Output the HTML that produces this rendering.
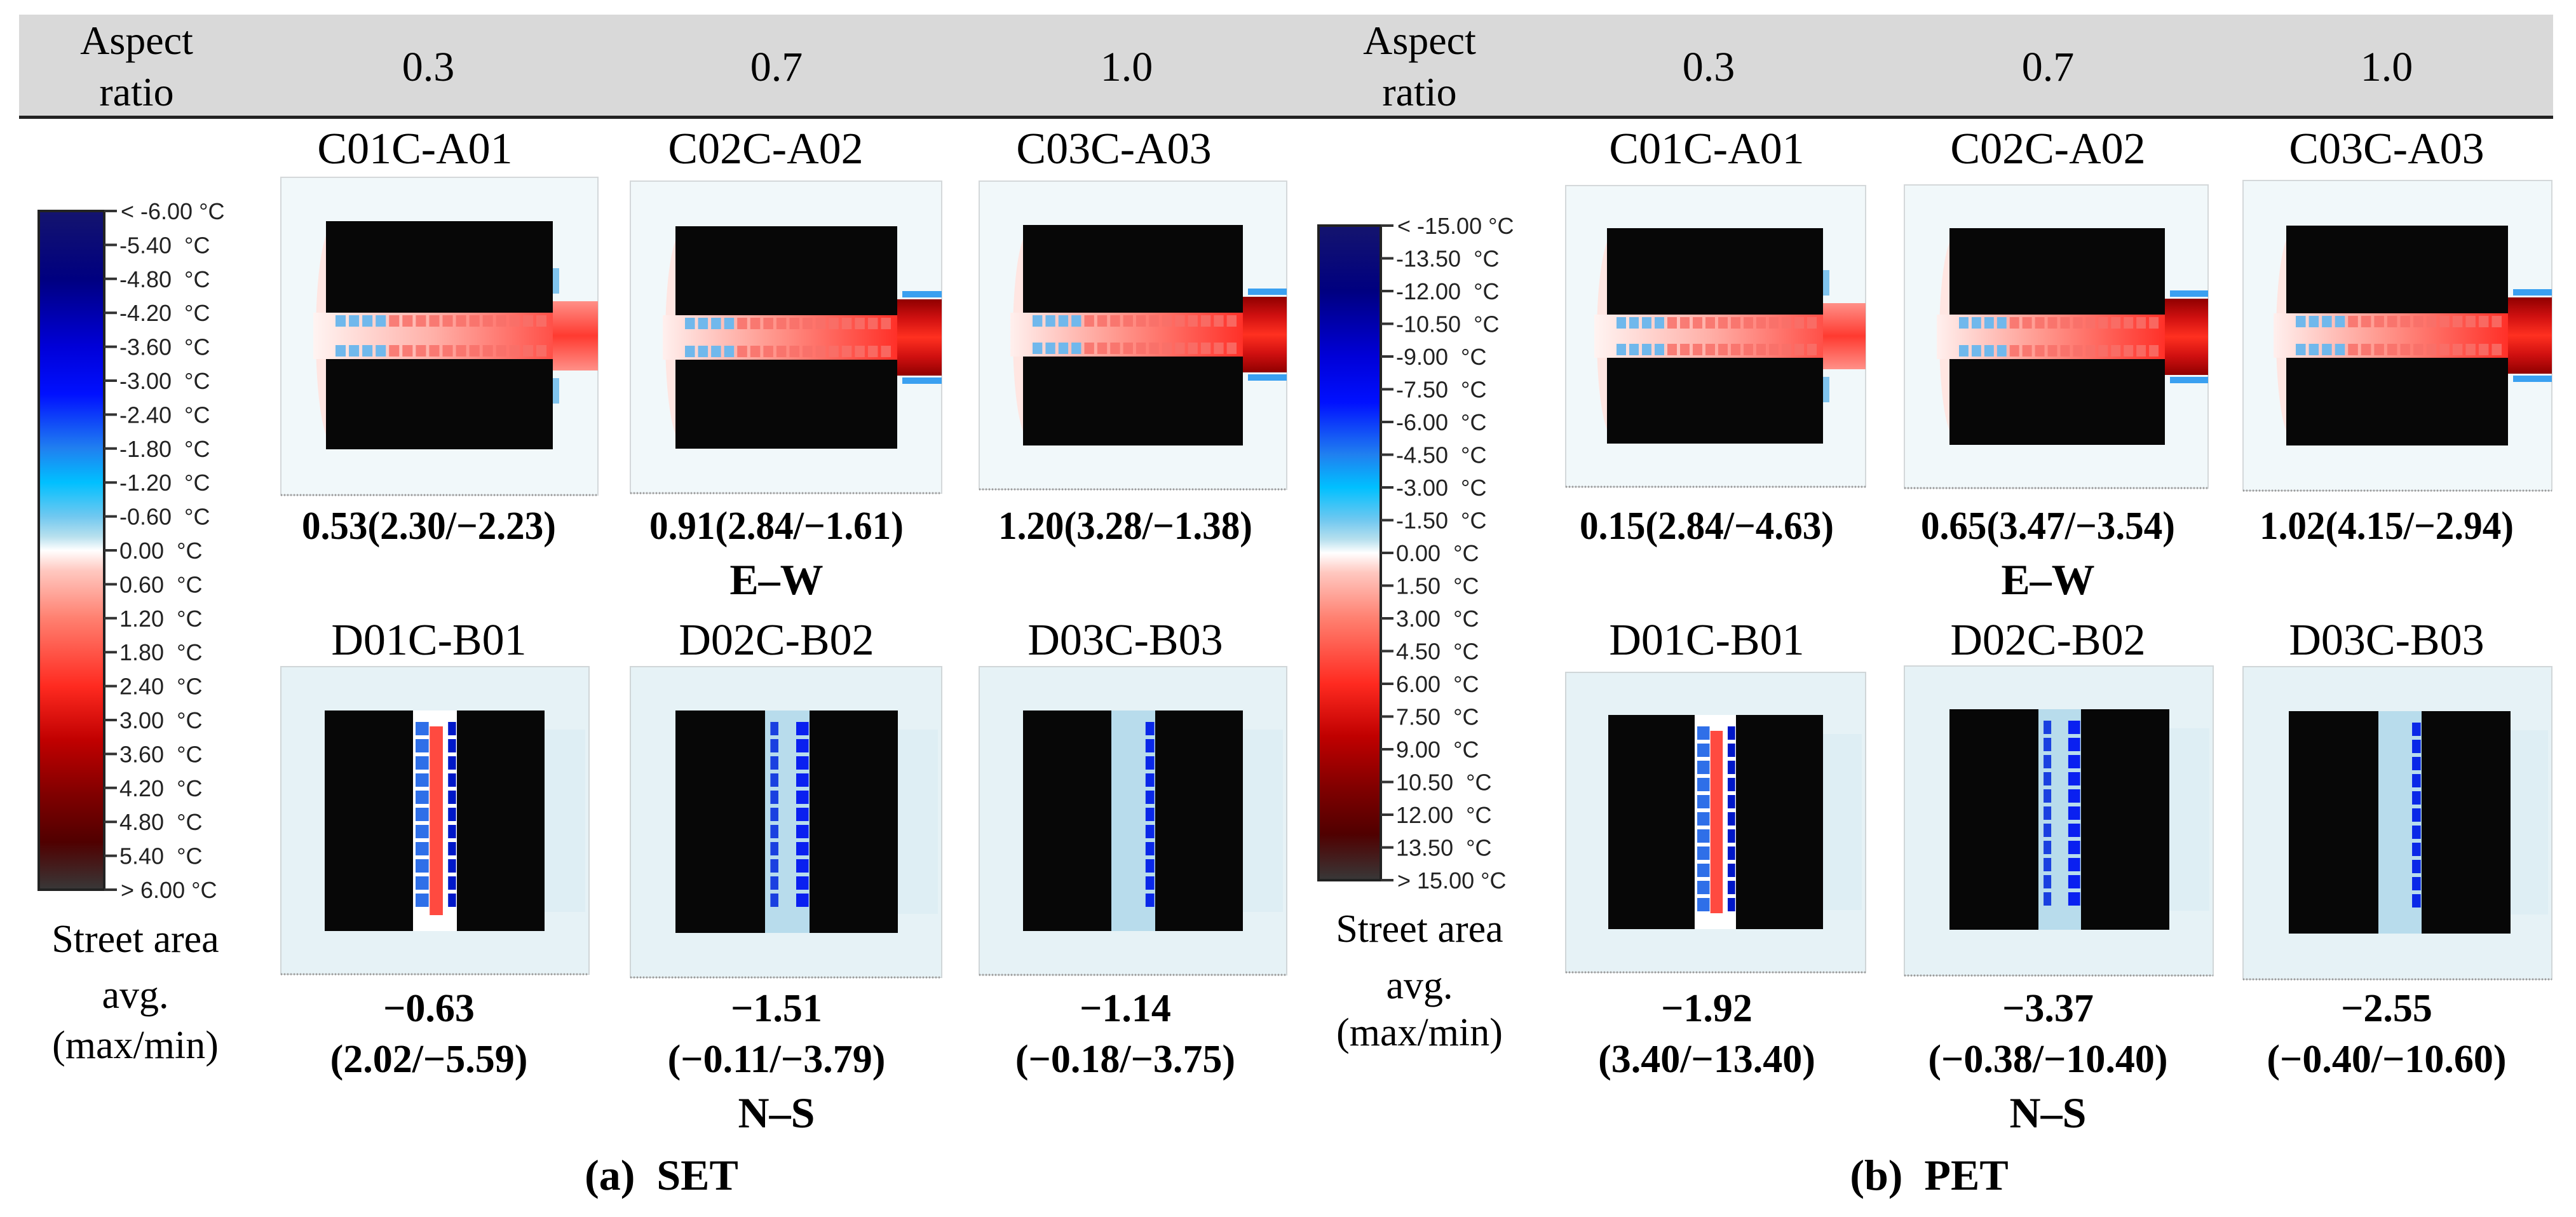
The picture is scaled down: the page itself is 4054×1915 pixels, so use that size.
<!DOCTYPE html>
<html><head><meta charset="utf-8">
<style>
html,body{margin:0;padding:0;background:#fff;}
body{width:4054px;height:1910px;overflow:hidden;}
svg text{white-space:pre;}
.serif{font-family:"Liberation Serif",serif;fill:#000;}
.cb{font-family:"Liberation Sans",sans-serif;font-size:36px;fill:#222;}
</style></head>
<body>
<svg id="fig" width="4054" height="1910" viewBox="0 0 4054 1910" xmlns="http://www.w3.org/2000/svg">
<defs>
 <linearGradient id="cbgrad" x1="0" y1="0" x2="0" y2="1">
  <stop offset="0" stop-color="#14146e"/>
  <stop offset="0.1" stop-color="#000080"/>
  <stop offset="0.2" stop-color="#0000d8"/>
  <stop offset="0.27" stop-color="#0010ff"/>
  <stop offset="0.35" stop-color="#2080f0"/>
  <stop offset="0.4" stop-color="#00c0ff"/>
  <stop offset="0.45" stop-color="#70c8f0"/>
  <stop offset="0.48" stop-color="#b8e0ee"/>
  <stop offset="0.5" stop-color="#ffffff"/>
  <stop offset="0.53" stop-color="#ffc8c0"/>
  <stop offset="0.6" stop-color="#ff8070"/>
  <stop offset="0.7" stop-color="#ff2a20"/>
  <stop offset="0.78" stop-color="#c00000"/>
  <stop offset="0.86" stop-color="#800000"/>
  <stop offset="0.93" stop-color="#500000"/>
  <stop offset="1" stop-color="#383838"/>
 </linearGradient>
 <linearGradient id="ewstreet1" x1="0" y1="0" x2="1" y2="0">
  <stop offset="0" stop-color="#fff4f2"/><stop offset="0.5" stop-color="#ffb0a8"/><stop offset="1" stop-color="#ff5048"/>
 </linearGradient>
 <linearGradient id="ewstreet2" x1="0" y1="0" x2="1" y2="0">
  <stop offset="0" stop-color="#fff0ee"/><stop offset="0.45" stop-color="#ff9a90"/><stop offset="1" stop-color="#ff3028"/>
 </linearGradient>
 <linearGradient id="exit1" x1="0" y1="0" x2="0" y2="1">
  <stop offset="0" stop-color="#ff9088"/><stop offset="0.5" stop-color="#ff3a30"/><stop offset="1" stop-color="#ff9088"/>
 </linearGradient>
 <linearGradient id="exit2" x1="0" y1="0" x2="0" y2="1">
  <stop offset="0" stop-color="#900000"/><stop offset="0.25" stop-color="#d01010"/><stop offset="0.5" stop-color="#ff3020"/><stop offset="0.75" stop-color="#d01010"/><stop offset="1" stop-color="#900000"/>
 </linearGradient>
</defs>
<g id="header">
 <rect x="30" y="23" width="3988" height="159" fill="#d9d9d9"/>
 <rect x="30" y="182" width="3988" height="5" fill="#222"/>
</g>
<g id="content"></g>
</svg>
<script>
const NS='http://www.w3.org/2000/svg';
const root=document.getElementById('content');
const hdr=document.getElementById('header');
function mk(tag,attrs,parent){const e=document.createElementNS(NS,tag);for(const k in attrs)e.setAttribute(k,attrs[k]);(parent||root).appendChild(e);return e;}
function txt(s,x,y,size,bold,anchor,name,parent,cls){const t=mk('text',{x:x,y:y,'font-size':size,'text-anchor':anchor||'middle','class':cls||'serif'},parent);if(bold)t.setAttribute('font-weight','bold');t.textContent=s;


return t;}

const headerCols=[['0.3',674],['0.7',1222],['1.0',1773],['0.3',2689],['0.7',3223],['1.0',3756]];
txt('Aspect',215,85,64,false,'middle','aspect-ratio-label',hdr);
txt('ratio',215,166,64,false,'middle','aspect-ratio-label',hdr);
txt('Aspect',2234,85,64,false,'middle','aspect-ratio-label',hdr);
txt('ratio',2234,166,64,false,'middle','aspect-ratio-label',hdr);
headerCols.forEach(c=>txt(c[0],c[1],127,66,false,'middle','aspect-ratio-value',hdr));

const setTicks=['< -6.00 °C','-5.40  °C','-4.80  °C','-4.20  °C','-3.60  °C','-3.00  °C','-2.40  °C','-1.80  °C','-1.20  °C','-0.60  °C','0.00  °C','0.60  °C','1.20  °C','1.80  °C','2.40  °C','3.00  °C','3.60  °C','4.20  °C','4.80  °C','5.40  °C','> 6.00 °C'];
const petTicks=['< -15.00 °C','-13.50  °C','-12.00  °C','-10.50  °C','-9.00  °C','-7.50  °C','-6.00  °C','-4.50  °C','-3.00  °C','-1.50  °C','0.00  °C','1.50  °C','3.00  °C','4.50  °C','6.00  °C','7.50  °C','9.00  °C','10.50  °C','12.00  °C','13.50  °C','> 15.00 °C'];
function colorbar(x,y0,y1,w,ticks,name){
 const g=mk('g',{});
 
 
 mk('rect',{x:x,y:y0,width:w,height:y1-y0,fill:'url(#cbgrad)',stroke:'#222','stroke-width':4},g);
 const step=(y1-y0)/(ticks.length-1);
 ticks.forEach((t,i)=>{const yy=y0+i*step;
  mk('line',{x1:x+w,x2:x+w+20,y1:yy,y2:yy,stroke:'#333','stroke-width':4},g);
  txt(t,x+w+(t[0]=='<'||t[0]=='>'?26:24),yy+13,36,false,'start','colorbar-tick-label',g,'cb');});
}
colorbar(61,332,1400,103,setTicks,'set-colorbar');
colorbar(2075,355,1385,98,petTicks,'pet-colorbar');

const ew=[
 [442,279,499,500,513,870,348,492,565,707,1],
 [992,285,490,491,1063,1412,356,496,566,706,2],
 [1541,285,484,485,1610,1956,354,492,561,701,3],
 [2464,292,472,474,2529,2869,359,495,563,698,1],
 [2997,291,478,477,3068,3407,359,495,565,700,2],
 [3530,284,486,488,3598,3947,355,493,563,701,2.5]];
const nsP=[
 [442,1049,485,484,511,650,719,857,1118,1465,'red'],
 [992,1049,490,489,1063,1204,1274,1413,1118,1468,'mid'],
 [1541,1049,484,485,1610,1749,1818,1956,1118,1465,'right'],
 [2464,1058,472,472,2531,2667,2732,2869,1125,1462,'red'],
 [2997,1048,486,487,3068,3208,3275,3414,1116,1463,'mid'],
 [3530,1049,486,492,3602,3743,3811,3951,1119,1469,'right']];

function ewPanel(p,i){
 const [x,y,w,h,b1,b2,t1,t2,u1,u2,heat]=p;
 const g=mk('g',{});
 
 
 mk('rect',{x:x,y:y,width:w,height:h,fill:'#f1f8fa',stroke:'#d4d8da','stroke-width':2},g);
 mk('line',{x1:x,x2:x+w,y1:y+h,y2:y+h,stroke:'#999','stroke-width':3,'stroke-dasharray':'2 3'},g);
 mk('ellipse',{cx:b1+10,cy:(t1+u2)/2,rx:26,ry:(u2-t1)/2-10,fill:'#ffe6e2'},g);
 mk('rect',{x:b1-20,y:t2,width:b2-b1+20,height:u1-t2,fill:heat>1?'url(#ewstreet2)':'url(#ewstreet1)'},g);
 const ex=x+w-b2;
 mk('rect',{x:b2,y:t2-(heat>1?25:18),width:ex,height:u1-t2+(heat>1?50:36),fill:heat>1?'url(#exit2)':'url(#exit1)'},g);
 if(heat>1){mk('rect',{x:b2+8,y:t2-38,width:ex-8,height:10,fill:'#3aa0f0'},g);mk('rect',{x:b2+8,y:u1+28,width:ex-8,height:10,fill:'#3aa0f0'},g);}
 else{mk('rect',{x:b2,y:t2-70,width:10,height:40,fill:'#80c4ee'},g);mk('rect',{x:b2,y:u1+30,width:10,height:40,fill:'#80c4ee'},g);}
 const n=16,sw=(b2-b1-20)/n;
 [[t2+4,18],[u1-22,18]].forEach(r=>{for(let k=0;k<n;k++){mk('rect',{x:b1+15+k*sw,y:r[0],width:sw-5,height:r[1],fill:k<4?'#70b8ec':'#f87068',opacity:k<4?1:0.85},g);}});
 mk('rect',{x:b1,y:t1,width:b2-b1,height:t2-t1,fill:'#070707'},g);
 mk('rect',{x:b1,y:u1,width:b2-b1,height:u2-u1,fill:'#070707'},g);
}
function nsPanel(p){
 const [x,y,w,h,l1,l2,r1,r2,y1,y2,type]=p;
 const g=mk('g',{});
 
 
 mk('rect',{x:x,y:y,width:w,height:h,fill:'#e6f2f6',stroke:'#d0d6d8','stroke-width':2},g);
 mk('line',{x1:x,x2:x+w,y1:y+h,y2:y+h,stroke:'#999','stroke-width':3,'stroke-dasharray':'2 3'},g);
 mk('rect',{x:r2,y:y1+30,width:x+w-r2-6,height:y2-y1-60,fill:'#deeef4'},g);
 mk('rect',{x:l2,y:y1,width:r1-l2,height:y2-y1,fill:type=='red'?'#ffffff':'#b8dcec'},g);
 const gw=r1-l2, per=27, n=Math.floor((y2-y1-30)/per);
 for(let k=0;k<n;k++){const yy=y1+18+k*per;
  if(type=='red'){
   mk('rect',{x:l2+4,y:yy,width:gw*0.3,height:21,fill:'#2f6fe8'},g);
   mk('rect',{x:r1-gw*0.2,y:yy,width:gw*0.18,height:21,fill:'#0018c8'},g);
  }else if(type=='mid'){
   mk('rect',{x:l2+gw*0.12,y:yy,width:gw*0.18,height:21,fill:'#1a40e0'},g);
   mk('rect',{x:r1-gw*0.3,y:yy,width:gw*0.28,height:21,fill:'#0a20f0'},g);
  }else{
   mk('rect',{x:r1-gw*0.22,y:yy,width:gw*0.2,height:21,fill:'#0a28e8'},g);
  }}
 if(type=='red') mk('rect',{x:l2+gw*0.38,y:y1+25,width:gw*0.3,height:y2-y1-50,fill:'#ff4a40'},g);
 mk('rect',{x:l1,y:y1,width:l2-l1,height:y2-y1,fill:'#070707'},g);
 mk('rect',{x:r1,y:y1,width:r2-r1,height:y2-y1,fill:'#070707'},g);
}
ew.forEach(ewPanel);
nsP.forEach(nsPanel);

const ewNames=['C01C-A01','C02C-A02','C03C-A03','C01C-A01','C02C-A02','C03C-A03'];
const ewTitleX=[653,1205,1753,2686,3223,3756];
const ewVals=['0.53(2.30/\u22122.23)','0.91(2.84/\u22121.61)','1.20(3.28/\u22121.38)','0.15(2.84/\u22124.63)','0.65(3.47/\u22123.54)','1.02(4.15/\u22122.94)'];
const nsNames=['D01C-B01','D02C-B02','D03C-B03','D01C-B01','D02C-B02','D03C-B03'];
const nsAvg=['\u22120.63','\u22121.51','\u22121.14','\u22121.92','\u22123.37','\u22122.55'];
const nsRange=['(2.02/\u22125.59)','(\u22120.11/\u22123.79)','(\u22120.18/\u22123.75)','(3.40/\u221213.40)','(\u22120.38/\u221210.40)','(\u22120.40/\u221210.60)'];
const valX=[675,1222,1771,2686,3223,3756];
for(let i=0;i<6;i++){
 txt(ewNames[i],ewTitleX[i],257,70,false,'middle','case-title');
 const v=txt(ewVals[i],valX[i],848,62,true,'middle','street-avg-value');
 v.setAttribute('textLength',400);v.setAttribute('lengthAdjust','spacingAndGlyphs');
 txt(nsNames[i],valX[i],1030,70,false,'middle','case-title');
 txt(nsAvg[i],valX[i],1607,62,true,'middle','street-avg-value');
 txt(nsRange[i],valX[i],1687,62,true,'middle','street-max-min-value');
}
txt('E\u2013W',1222,935,68,true,'middle','orientation-label');
txt('E\u2013W',3223,935,68,true,'middle','orientation-label');
txt('N\u2013S',1222,1774,68,true,'middle','orientation-label');
txt('N\u2013S',3223,1774,68,true,'middle','orientation-label');
txt('(a)  SET',1041,1872,68,true,'middle','panel-caption-set');
txt('(b)  PET',3036,1872,68,true,'middle','panel-caption-pet');
[[213,1498,1586,1665],[2234,1482,1571,1645]].forEach(s=>{
 txt('Street area',s[0],s[1],62,false,'middle','street-area-label');
 txt('avg.',s[0],s[2],62,false,'middle','street-area-label');
 txt('(max/min)',s[0],s[3],62,false,'middle','street-area-label');
});
</script>
</body></html>
